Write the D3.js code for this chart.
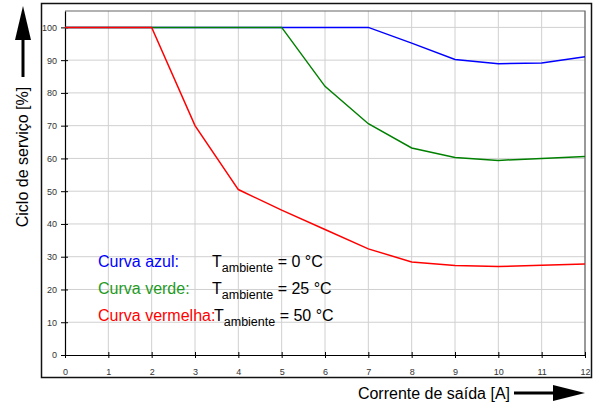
<!DOCTYPE html>
<html>
<head>
<meta charset="utf-8">
<script src="https://cdn.jsdelivr.net/npm/d3@7"></script>
<style>
  body { margin: 0; background: #fff; }
  text { font-family: "Liberation Sans", Arial, sans-serif; }
</style>
</head>
<body>
<div id="chart"></div>
<script>
// ------------------------------------------------------------
// Data
// ------------------------------------------------------------
const current = [0, 1, 2, 3, 4, 5, 6, 7, 8, 9, 10, 11, 12];
const blueValues  = [100, 100, 100, 100, 100, 100, 100, 100, 95.2, 90.2, 88.9, 89.1, 91.0];
const greenValues = [100, 100, 100, 100, 100, 100, 82.0, 70.6, 63.2, 60.3, 59.4, 60.0, 60.6];
const redValues   = [100, 100, 100, 70.0, 50.5, 44.2, 38.3, 32.4, 28.4, 27.3, 27.0, 27.4, 27.8];
const yTicks = [0, 10, 20, 30, 40, 50, 60, 70, 80, 90, 100];
const legendNames = ["Curva azul:", "Curva verde:", "Curva vermelha:"];
const legendTemps = ["0 °C", "25 °C", "50 °C"];

const width = 593;
const height = 408;
const plot = { left: 65, right: 585, top: 11, bottom: 355 };

const svg = d3.select("#chart")
  .append("svg")
  .attr("width", width)
  .attr("height", height);

const x = d3.scaleLinear().domain([0, 12]).range([plot.left, plot.right]);
const y = d3.scaleLinear().domain([0, 105]).range([plot.bottom, plot.top]);

// outer frame
svg.append("rect")
  .attr("x", 41.5).attr("y", 3.5)
  .attr("width", 550).attr("height", 374)
  .attr("fill", "none")
  .attr("stroke", "#111")
  .attr("stroke-width", 1.5);

// grid
svg.append("g")
  .selectAll("line")
  .data(current.slice(1))
  .join("line")
  .attr("x1", d => x(d)).attr("x2", d => x(d))
  .attr("y1", plot.top).attr("y2", plot.bottom)
  .attr("stroke", "#d0d0d0");

svg.append("g")
  .selectAll("line")
  .data(yTicks.slice(1))
  .join("line")
  .attr("x1", plot.left).attr("x2", plot.right)
  .attr("y1", d => y(d)).attr("y2", d => y(d))
  .attr("stroke", "#d0d0d0");

// plot frame (top/right)
svg.append("path")
  .attr("d", `M${plot.left},${plot.top}H${plot.right}V${plot.bottom}`)
  .attr("fill", "none")
  .attr("stroke", "#666")
  .attr("stroke-width", 1.2);

// axes
const xAxis = svg.append("g")
  .attr("transform", `translate(0,${plot.bottom})`)
  .call(d3.axisBottom(x).tickValues(current).tickSize(4).tickPadding(10).tickSizeOuter(0));
const yAxis = svg.append("g")
  .attr("transform", `translate(${plot.left},0)`)
  .call(d3.axisLeft(y).tickValues(yTicks).tickSize(4).tickPadding(4).tickSizeOuter(0));

[xAxis, yAxis].forEach(g => {
  g.select(".domain").attr("stroke", "#000").attr("stroke-width", 1.2);
  g.selectAll(".tick line").attr("stroke", "#000");
  g.selectAll(".tick text")
    .attr("fill", "#333")
    .style("font-family", "'Liberation Sans', Arial, sans-serif")
    .style("font-size", "9px");
});
xAxis.selectAll(".tick line").attr("y1", -3).attr("y2", 3);
yAxis.selectAll(".tick line").attr("x1", 3).attr("x2", -4);

// curves
const line = d3.line()
  .x((d, i) => x(current[i]))
  .y(d => y(d));

const series = [
  { values: blueValues, color: "#0000ff" },
  { values: greenValues, color: "#008000" },
  { values: redValues, color: "#ff0000" }
];

svg.append("g")
  .selectAll("path")
  .data(series)
  .join("path")
  .attr("d", d => line(d.values))
  .attr("fill", "none")
  .attr("stroke", d => d.color)
  .attr("stroke-width", 1.5);

// legend
const legendColors = ["#0000ff", "#1f9a1f", "#ff0000"];
const legend = svg.append("g");
legendNames.forEach((name, i) => {
  const by = 267 + i * 27;
  legend.append("text")
    .attr("x", 98).attr("y", by)
    .attr("fill", legendColors[i])
    .style("font-size", "16px")
    .text(name);
  const t = legend.append("text")
    .attr("x", i === 2 ? 214 : 212).attr("y", by)
    .attr("fill", "#000")
    .style("font-size", "16px");
  t.append("tspan").text("T");
  t.append("tspan").attr("dy", 5).style("font-size", "12.5px").text("ambiente");
  t.append("tspan").attr("dy", -5).text(" = " + legendTemps[i]);
});

// axis titles with arrows
svg.append("text")
  .attr("transform", "translate(28,157) rotate(-90)")
  .attr("text-anchor", "middle")
  .style("font-size", "16px")
  .text("Ciclo de serviço [%]");

svg.append("line")
  .attr("x1", 23).attr("x2", 23).attr("y1", 77).attr("y2", 35)
  .attr("stroke", "#000").attr("stroke-width", 3);
svg.append("path")
  .attr("d", "M23,6 L31,40 L15,40 Z")
  .attr("fill", "#000");

svg.append("text")
  .attr("x", 510).attr("y", 399)
  .attr("text-anchor", "end")
  .style("font-size", "16px")
  .text("Corrente de saída [A]");

svg.append("line")
  .attr("x1", 514).attr("x2", 556).attr("y1", 393).attr("y2", 393)
  .attr("stroke", "#000").attr("stroke-width", 3);
svg.append("path")
  .attr("d", "M585,393 L553,385 L553,401 Z")
  .attr("fill", "#000");
</script>
</body>
</html>
